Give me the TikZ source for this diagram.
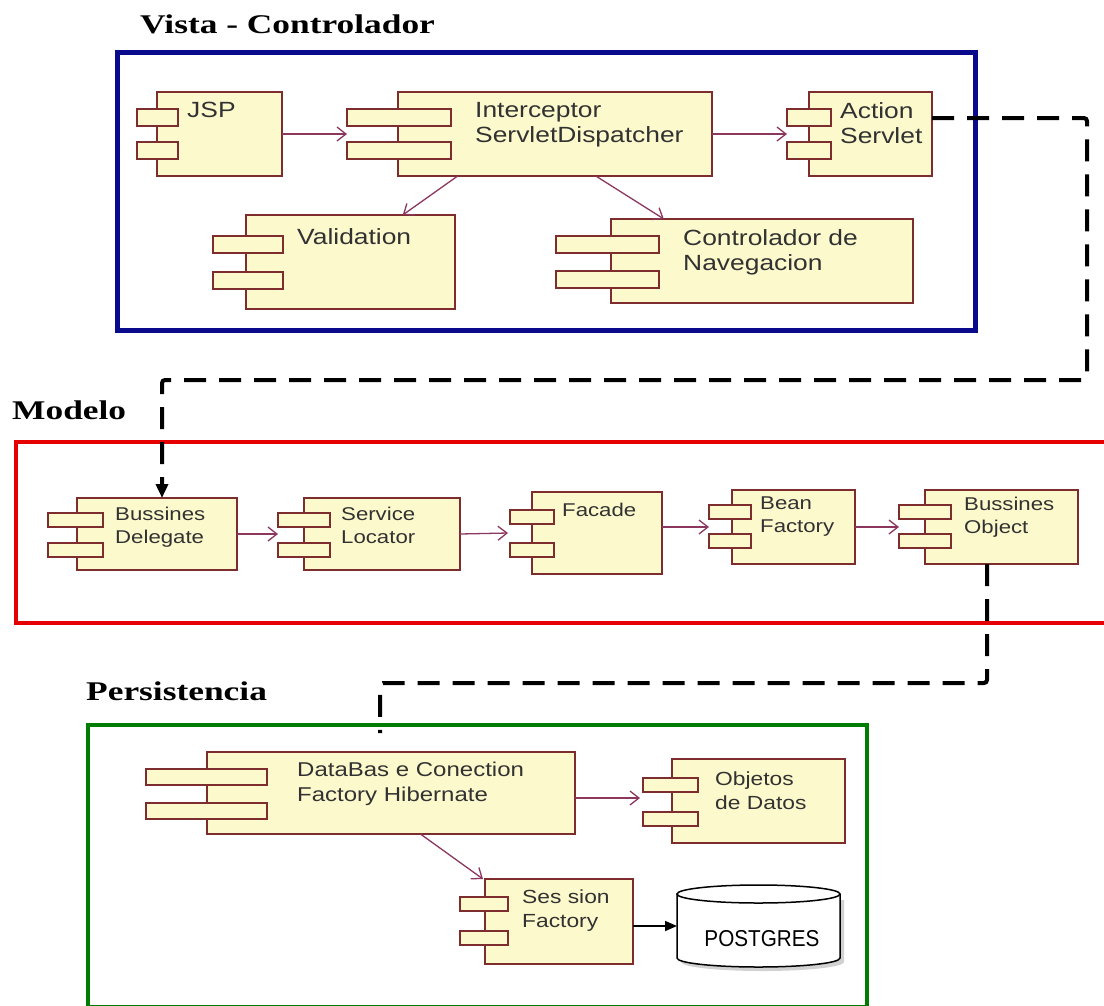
\documentclass[tikz,border=0pt]{standalone}
\usepackage{fontspec}
\usetikzlibrary{arrows.meta,calc}
\newfontfamily\compf{Liberation Sans}[FakeStretch=1.2]
\newfontfamily\titlef{Liberation Serif}[FakeStretch=1.31]
\newfontfamily\pgf{Liberation Sans}[FakeStretch=0.9]
\definecolor{compfill}{RGB}{252,249,204}
\definecolor{compline}{RGB}{125,45,45}
\definecolor{conn}{RGB}{140,55,95}
\definecolor{comptext}{RGB}{50,50,50}
\definecolor{vcblue}{RGB}{10,10,140}
\definecolor{mred}{RGB}{230,0,0}
\definecolor{pgreen}{RGB}{0,125,0}
\newcommand\tabh{17}
\newcommand\umlcomp[9]{%
  \node[compbody, minimum width={#4-#2}, minimum height={#5-#3}] (#1) at ({(#2+#4)/2},{(#3+#5)/2}) {};
  \draw[comptab] (#6,#8) rectangle (#7,#8+\tabh);
  \draw[comptab] (#6,#9) rectangle (#7,#9+\tabh);
}
\begin{document}
\begin{tikzpicture}[x=1pt,y=-1pt,
  compbody/.style={rectangle, draw=compline, fill=compfill, line width=1.8pt, inner sep=0pt, outer sep=0pt},
  comptab/.style={draw=compline, fill=compfill, line width=1.8pt},
  comptxt/.style={anchor=north west, inner sep=0pt, align=left, text=comptext},
  topfont/.style={font=\compf\fontsize{22}{25.5}\selectfont},
  modfont/.style={font=\compf\fontsize{18.5}{22.5}\selectfont},
  perfont/.style={font=\compf\fontsize{19}{24}\selectfont},
  titletxt/.style={anchor=north west, inner sep=0pt, font=\titlef\bfseries\fontsize{27}{30}\selectfont, text=black},
  uml/.style={draw=conn, line width=1.3pt, -{Straight Barb[length=9pt,width=14pt,line width=1.3pt]}},
  solidarr/.style={draw=black, line width=1.6pt, -{Triangle[length=12pt,width=10pt]}},
  dconn/.style={draw=black, line width=4pt, dash pattern=on 22pt off 13pt, rounded corners=3pt}
]
\useasboundingbox (0,0) rectangle (1104,1005);
\fill[white] (0,0) rectangle (1104,1005);

% frames
\draw[vcblue, line width=5pt] (117,52) rectangle (975,330);
\draw[mred, line width=4.5pt] (16,442) rectangle (1120,623);
\draw[pgreen, line width=4pt] (88,725) rectangle (867,1007);

% titles
\node[titletxt] (t1) at (140,15) {Vista - Controlador};
\node[titletxt] (t2) at (12,401) {Modelo};
\node[titletxt] (t3) at (86,682) {Persistencia};

% Vista - Controlador
\renewcommand\tabh{17}
\umlcomp{jsp}{157}{92}{282}{176}{137}{178}{109}{142}
\umlcomp{ic}{398}{92}{712}{176}{347}{451}{109}{142}
\umlcomp{as}{809}{92}{932}{176}{787}{831}{109}{142}
\umlcomp{val}{246}{215}{455}{309}{213}{283}{236}{272}
\umlcomp{nav}{611}{219}{913}{303}{556}{659}{236}{271}
\node[comptxt, topfont] (jsp-t) at (187,102) {JSP};
\node[comptxt, topfont] (ic-t) at (475,102) {Interceptor\\ServletDispatcher};
\node[comptxt, topfont] (as-t) at (840,102) {Action\\Servlet};
\node[comptxt, topfont] (val-t) at (297,228) {Validation};
\node[comptxt, topfont] (nav-t) at (683,229) {Controlador de\\Navegacion};

% Modelo
\renewcommand\tabh{14}
\umlcomp{bd}{77}{498}{237}{570}{48}{103}{513}{543}
\umlcomp{sl}{304}{498}{460}{570}{278}{330}{513}{543}
\umlcomp{fac}{532}{492}{662}{574}{510}{554}{510}{543}
\umlcomp{bf}{732}{490}{855}{564}{709}{751}{505}{534}
\umlcomp{bo}{925}{490}{1078}{564}{899}{951}{505}{534}
\node[comptxt, modfont] (bd-t) at (115,507) {Bussines\\Delegate};
\node[comptxt, modfont] (sl-t) at (341,507) {Service\\Locator};
\node[comptxt, modfont] (fac-t) at (562,503) {Facade};
\node[comptxt, modfont] (bf-t) at (760,497) {Bean\\Factory};
\node[comptxt, modfont] (bo-t) at (964,497) {Bussines\\Object};

% Persistencia
\renewcommand\tabh{16}
\umlcomp{db}{207}{752}{575}{834}{146}{267}{769}{803}
\renewcommand\tabh{14}
\umlcomp{od}{672}{759}{845}{843}{643}{698}{778}{812}
\umlcomp{sf}{485}{879}{633}{964}{460}{508}{897}{931}
\node[comptxt, font=\compf\fontsize{20}{25}\selectfont] (db-t) at (297,762) {DataBas e Conection\\Factory Hibernate};
\node[comptxt, perfont] (od-t) at (715,772) {Objetos\\de Datos};
\node[comptxt, perfont] (sf-t) at (522,890) {Ses sion\\Factory};

% POSTGRES cylinder
\node[rectangle, inner sep=0pt, outer sep=0pt, minimum width=163, minimum height=82] (pg) at (758.5,926) {};
\fill[black!18] (681,900) -- (681,962) arc[start angle=180, end angle=0, x radius=81.5, y radius=9] -- (844,900) -- cycle;
\draw[black, line width=1.5pt, fill=white] (677,894) -- (677,958) arc[start angle=180, end angle=0, x radius=81.5, y radius=9] -- (840,894);
\draw[black, line width=1.5pt, fill=white] (758.5,894) ellipse[x radius=81.5, y radius=9];
\node[inner sep=0pt, font=\pgf\fontsize{23}{26}\selectfont, text=black] (pg-t) at (762,939) {POSTGRES};

% connectors
\draw[uml] (jsp.east) -- ([xshift=-51pt]ic.west);
\draw[uml] (ic.east) -- ([xshift=-22pt]as.west);
\draw[uml] ($(ic.south west)!0.19!(ic.south east)$) -- ($(val.north west)!0.75!(val.north east)$);
\draw[uml] ($(ic.south west)!0.63!(ic.south east)$) -- ($(nav.north west)!0.175!(nav.north east)$);
\draw[uml] (bd.east) -- ([xshift=-26pt]sl.west);
\draw[uml] (sl.east) -- ([xshift=-24pt]fac.west);
\draw[uml] (fac.east |- bf.west) -- ([xshift=-23pt]bf.west);
\draw[uml] (bf.east) -- ([xshift=-26pt]bo.west);
\draw[uml] ([yshift=-5pt]db.east) -- ([xshift=-32pt,yshift=3pt]od.west);
\draw[uml] ($(db.south west)!0.58!(db.south east)$) -- ([xshift=-2pt]sf.north west);
\draw[solidarr] ([yshift=-4.5pt]sf.east) -- (pg.west);

% dashed layer connectors
\coordinate (d1) at (1087,380);
\coordinate (d2) at (380,683);
\coordinate (dbin) at (380,733);
\draw[dconn, -{Triangle[length=14pt,width=12pt]}] ([yshift=-26pt]as.north east) -| (d1) -| ([xshift=5pt]bd.north);
\draw[dconn] ([xshift=-14.5pt]bo.south) |- (d2) -- (dbin);
\end{tikzpicture}
\end{document}
